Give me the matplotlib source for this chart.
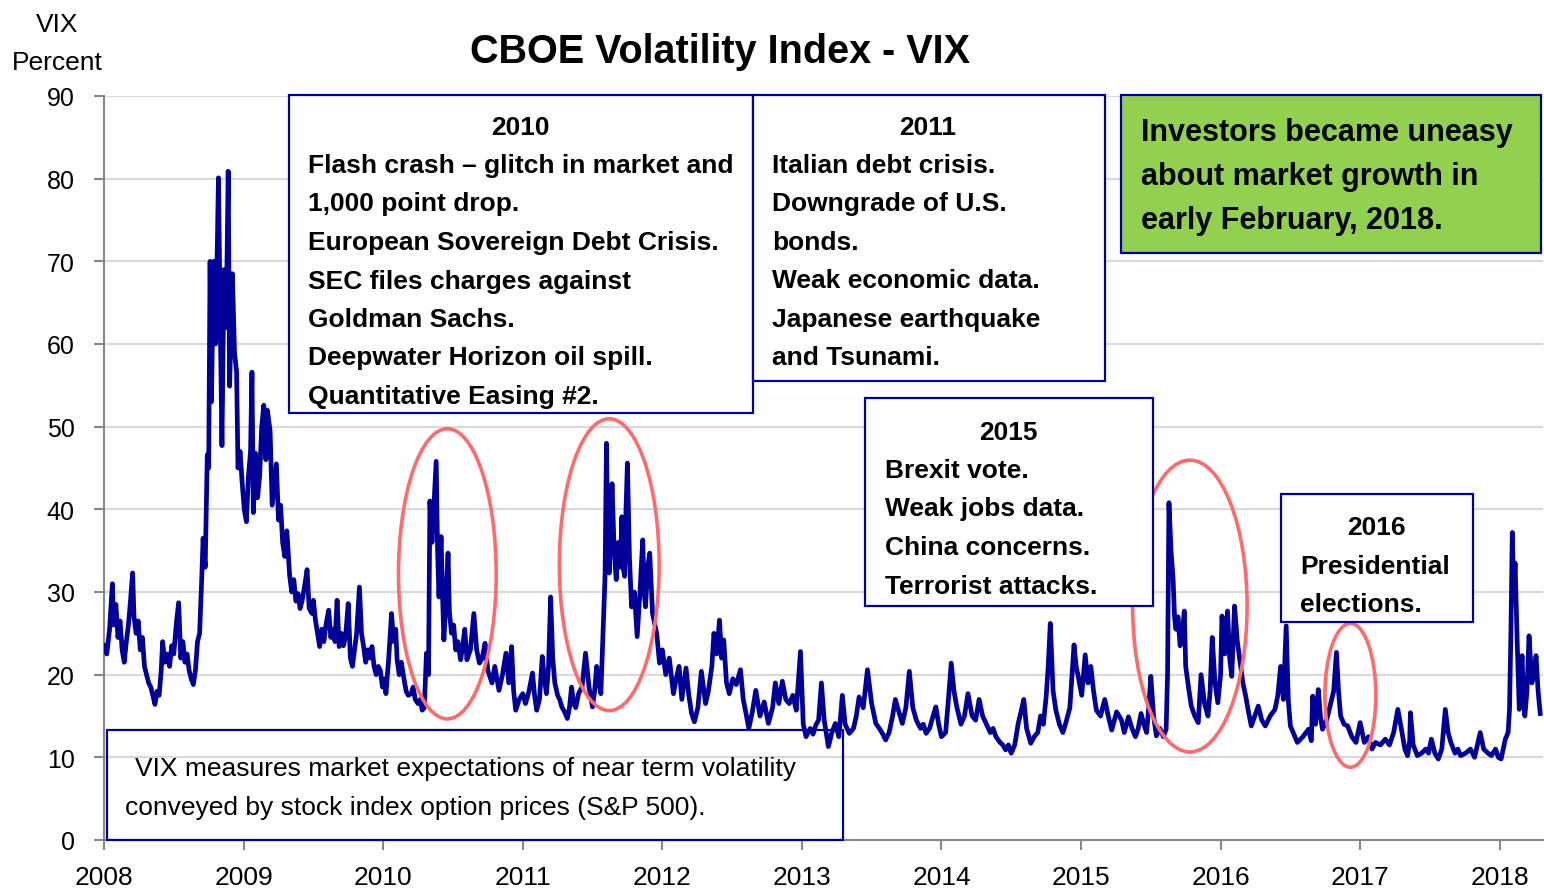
import matplotlib
matplotlib.use("Agg")
import matplotlib.pyplot as plt
from matplotlib.patches import Rectangle, Ellipse

W, H = 1544, 895
FONT = ["Liberation Sans", "DejaVu Sans"]

# ---- data: (decimal year, VIX) ----
vix_2008 = [(2008.00, 23.5), (2008.02, 22.5), (2008.04, 25.5), (2008.06, 31.0), (2008.07, 26.0),
            (2008.085, 28.5), (2008.10, 24.5), (2008.115, 26.5), (2008.13, 23.0), (2008.145, 21.5),
            (2008.16, 24.0), (2008.175, 26.0), (2008.19, 29.0), (2008.205, 32.3), (2008.215, 27.0),
            (2008.23, 25.0), (2008.245, 26.5), (2008.26, 23.0), (2008.275, 24.5), (2008.29, 21.0),
            (2008.305, 20.0), (2008.32, 19.0), (2008.335, 18.5), (2008.35, 17.5), (2008.365, 16.4),
            (2008.38, 18.0), (2008.395, 17.5), (2008.41, 20.5), (2008.42, 24.0), (2008.435, 21.5),
            (2008.45, 22.5), (2008.47, 21.0), (2008.485, 23.5), (2008.50, 22.5), (2008.52, 26.5),
            (2008.535, 28.7), (2008.55, 22.0), (2008.565, 24.0), (2008.58, 21.5), (2008.595, 22.5),
            (2008.61, 20.5), (2008.625, 19.5), (2008.64, 18.8), (2008.655, 20.5), (2008.67, 24.0),
            (2008.685, 25.0), (2008.70, 31.5), (2008.71, 36.5), (2008.725, 33.0), (2008.74, 46.6),
            (2008.75, 45.0), (2008.76, 70.0), (2008.77, 53.0), (2008.785, 70.0), (2008.80, 60.0),
            (2008.82, 80.1), (2008.83, 66.5), (2008.845, 47.7), (2008.86, 69.0), (2008.875, 62.0),
            (2008.89, 80.9), (2008.90, 54.9), (2008.92, 68.5), (2008.935, 59.0), (2008.95, 56.6),
            (2008.96, 45.0), (2008.975, 47.0), (2008.99, 43.2)]
vix_2009 = [(2009.005, 40.0), (2009.02, 38.5), (2009.035, 44.0), (2009.05, 47.0), (2009.06, 56.6),
            (2009.07, 39.6), (2009.085, 46.8), (2009.10, 41.4), (2009.115, 44.0), (2009.13, 50.0),
            (2009.145, 52.6), (2009.16, 46.0), (2009.17, 52.0), (2009.19, 49.5), (2009.205, 40.5),
            (2009.22, 43.0), (2009.235, 45.5), (2009.25, 38.7), (2009.265, 40.5), (2009.28, 36.0),
            (2009.295, 34.3), (2009.31, 37.4), (2009.33, 32.0), (2009.345, 30.0), (2009.36, 31.5),
            (2009.375, 28.9), (2009.39, 29.8), (2009.405, 28.0), (2009.42, 29.0), (2009.44, 31.0),
            (2009.455, 32.7), (2009.47, 28.0), (2009.49, 27.4), (2009.50, 29.0), (2009.515, 26.6),
            (2009.53, 25.0), (2009.545, 23.4), (2009.56, 25.5), (2009.575, 24.0), (2009.59, 26.0),
            (2009.61, 27.8), (2009.625, 24.5), (2009.64, 25.5), (2009.655, 24.0), (2009.67, 29.0),
            (2009.685, 23.4), (2009.70, 25.0), (2009.715, 23.5), (2009.73, 24.5), (2009.75, 28.6),
            (2009.765, 22.0), (2009.78, 21.0), (2009.795, 23.0), (2009.81, 25.0), (2009.83, 30.6),
            (2009.845, 25.0), (2009.86, 23.4), (2009.875, 21.5), (2009.89, 23.0), (2009.905, 22.0),
            (2009.92, 23.4), (2009.935, 21.0), (2009.95, 20.0), (2009.965, 21.0), (2009.98, 20.5),
            (2009.995, 18.5)]
vix_2010 = [(2010.01, 19.5), (2010.02, 17.7), (2010.04, 22.0), (2010.06, 27.4), (2010.075, 24.0),
            (2010.09, 25.5), (2010.10, 21.8), (2010.115, 20.0), (2010.13, 21.5), (2010.15, 19.4),
            (2010.165, 18.0), (2010.18, 17.5), (2010.20, 17.7), (2010.215, 18.5), (2010.23, 17.0),
            (2010.25, 16.5), (2010.265, 17.0), (2010.28, 15.7), (2010.295, 16.0), (2010.31, 22.6),
            (2010.325, 20.0), (2010.335, 41.0), (2010.35, 36.0), (2010.365, 41.0), (2010.38, 45.8),
            (2010.39, 35.0), (2010.40, 29.4), (2010.415, 36.7), (2010.425, 30.0), (2010.435, 24.2),
            (2010.45, 29.0), (2010.465, 34.7), (2010.475, 27.5), (2010.49, 25.0), (2010.505, 26.0),
            (2010.52, 23.0), (2010.535, 24.0), (2010.555, 21.8), (2010.57, 23.5), (2010.585, 25.5),
            (2010.60, 21.8), (2010.625, 23.0), (2010.65, 27.4), (2010.67, 23.0), (2010.69, 21.4),
            (2010.71, 22.0), (2010.73, 23.8), (2010.75, 20.5), (2010.78, 19.0), (2010.80, 21.0),
            (2010.83, 18.1), (2010.855, 20.0), (2010.88, 22.6), (2010.90, 19.0), (2010.92, 23.4),
            (2010.935, 18.0), (2010.95, 15.7), (2010.975, 17.0)]
vix_2011 = [(2011.00, 17.7), (2011.02, 16.5), (2011.045, 18.0), (2011.07, 20.2), (2011.085, 17.5),
            (2011.10, 15.7), (2011.12, 17.0), (2011.14, 22.2), (2011.155, 19.5), (2011.17, 17.7),
            (2011.185, 21.0), (2011.20, 29.4), (2011.215, 22.0), (2011.23, 19.0), (2011.25, 17.5),
            (2011.265, 17.0), (2011.28, 16.1), (2011.30, 15.5), (2011.32, 14.7), (2011.335, 16.0),
            (2011.35, 18.5), (2011.365, 16.5), (2011.38, 16.0), (2011.40, 17.7), (2011.425, 18.5),
            (2011.45, 22.6), (2011.475, 18.5), (2011.50, 16.1), (2011.515, 18.0), (2011.53, 21.0),
            (2011.545, 19.0), (2011.56, 17.7), (2011.575, 25.0), (2011.59, 32.0), (2011.60, 48.0),
            (2011.61, 36.0), (2011.62, 32.3), (2011.63, 38.0), (2011.64, 43.1), (2011.655, 35.0),
            (2011.67, 31.5), (2011.685, 36.0), (2011.70, 33.0), (2011.71, 39.1), (2011.72, 33.0),
            (2011.73, 31.9), (2011.74, 40.0), (2011.75, 45.6), (2011.765, 34.0), (2011.78, 28.2),
            (2011.80, 30.0), (2011.82, 24.6), (2011.84, 30.0), (2011.86, 36.3), (2011.87, 30.0),
            (2011.88, 28.2), (2011.895, 33.0), (2011.91, 34.7), (2011.93, 27.4), (2011.96, 25.0),
            (2011.98, 21.4)]
vix_2012 = [(2012.00, 23.0), (2012.025, 20.0), (2012.05, 22.0), (2012.08, 17.7), (2012.10, 19.5),
            (2012.12, 21.0), (2012.14, 17.0), (2012.17, 20.8), (2012.19, 17.5), (2012.21, 15.3),
            (2012.23, 14.3), (2012.255, 16.0), (2012.28, 20.4), (2012.31, 16.5), (2012.33, 18.0),
            (2012.355, 21.0), (2012.37, 25.0), (2012.39, 22.5), (2012.41, 26.6), (2012.425, 22.0),
            (2012.44, 24.2), (2012.46, 19.0), (2012.48, 17.7), (2012.505, 19.5), (2012.53, 18.8),
            (2012.56, 20.6), (2012.58, 17.0), (2012.60, 15.3), (2012.62, 13.5), (2012.645, 15.5),
            (2012.67, 18.1), (2012.70, 15.0), (2012.73, 16.7), (2012.76, 14.1), (2012.79, 16.0),
            (2012.81, 19.0), (2012.835, 16.5), (2012.86, 19.2), (2012.885, 17.0), (2012.91, 16.5),
            (2012.935, 17.5), (2012.96, 15.7), (2012.99, 22.8)]
vix_2013 = [(2013.01, 14.0), (2013.03, 12.5), (2013.06, 13.5), (2013.08, 12.8), (2013.10, 13.9),
            (2013.12, 14.5), (2013.14, 19.0), (2013.16, 14.5), (2013.19, 11.3), (2013.215, 13.0),
            (2013.24, 14.1), (2013.265, 12.5), (2013.29, 17.5), (2013.31, 14.0), (2013.34, 12.9),
            (2013.37, 13.5), (2013.39, 15.0), (2013.41, 17.3), (2013.44, 16.0), (2013.47, 20.6),
            (2013.50, 16.5), (2013.53, 14.1), (2013.555, 13.5), (2013.58, 12.8), (2013.60, 12.1),
            (2013.625, 13.0), (2013.65, 15.0), (2013.67, 17.0), (2013.695, 15.5), (2013.72, 14.1),
            (2013.745, 16.0), (2013.77, 20.4), (2013.795, 16.0), (2013.82, 14.5), (2013.85, 13.5),
            (2013.87, 14.0), (2013.89, 12.9), (2013.915, 13.5), (2013.94, 15.0), (2013.96, 16.1),
            (2013.98, 14.0)]
vix_2014 = [(2014.00, 12.5), (2014.03, 13.0), (2014.05, 17.0), (2014.07, 21.4), (2014.09, 18.0),
            (2014.11, 16.1), (2014.14, 14.0), (2014.165, 15.0), (2014.19, 17.7), (2014.22, 15.0),
            (2014.245, 14.5), (2014.27, 17.0), (2014.295, 15.0), (2014.32, 14.1), (2014.35, 13.0),
            (2014.37, 13.5), (2014.39, 12.5), (2014.42, 11.8), (2014.44, 11.5), (2014.46, 10.9),
            (2014.48, 11.5), (2014.50, 10.5), (2014.525, 11.5), (2014.55, 14.1), (2014.57, 15.5),
            (2014.59, 17.0), (2014.61, 13.5), (2014.64, 11.7), (2014.665, 12.5), (2014.69, 13.0),
            (2014.71, 15.0), (2014.73, 14.0), (2014.75, 17.3), (2014.765, 21.0), (2014.78, 26.2),
            (2014.80, 18.0), (2014.82, 15.7), (2014.845, 14.0), (2014.87, 13.0), (2014.89, 14.1),
            (2014.92, 16.0), (2014.95, 23.6), (2014.965, 21.0), (2014.98, 19.8)]
vix_2015 = [(2015.005, 17.5), (2015.03, 22.4), (2015.05, 19.0), (2015.07, 21.0), (2015.09, 18.0),
            (2015.11, 15.7), (2015.14, 15.0), (2015.17, 17.0), (2015.195, 15.0), (2015.22, 13.3),
            (2015.255, 15.5), (2015.29, 14.5), (2015.31, 13.0), (2015.34, 14.9), (2015.365, 13.5),
            (2015.39, 12.5), (2015.41, 13.5), (2015.43, 15.3), (2015.45, 14.0), (2015.47, 13.0),
            (2015.485, 16.0), (2015.50, 19.8), (2015.52, 15.0), (2015.54, 12.6), (2015.565, 13.5),
            (2015.59, 12.5), (2015.61, 13.4), (2015.62, 20.0), (2015.63, 40.8), (2015.645, 35.0),
            (2015.66, 31.5), (2015.67, 27.0), (2015.68, 25.5), (2015.695, 27.0), (2015.71, 23.5),
            (2015.725, 25.0), (2015.74, 27.7), (2015.75, 21.0), (2015.77, 18.5), (2015.79, 16.2),
            (2015.815, 15.0), (2015.84, 14.2), (2015.86, 20.0), (2015.885, 16.5), (2015.91, 15.0),
            (2015.925, 18.0), (2015.94, 24.5), (2015.96, 19.0), (2015.98, 16.6)]
vix_2016 = [(2016.00, 20.0), (2016.01, 27.1), (2016.03, 22.5), (2016.05, 27.7), (2016.065, 22.0),
            (2016.08, 19.8), (2016.09, 24.0), (2016.10, 28.3), (2016.12, 24.0), (2016.14, 21.5),
            (2016.16, 19.0), (2016.18, 17.4), (2016.20, 15.5), (2016.22, 13.8), (2016.245, 15.0),
            (2016.27, 16.2), (2016.295, 14.5), (2016.32, 13.8), (2016.355, 15.0), (2016.39, 15.8),
            (2016.41, 17.5), (2016.43, 21.0), (2016.45, 17.0), (2016.47, 25.9), (2016.485, 17.0),
            (2016.50, 13.8), (2016.525, 12.8), (2016.55, 11.8), (2016.59, 12.5), (2016.63, 13.4),
            (2016.65, 12.0), (2016.66, 17.4), (2016.68, 14.0), (2016.70, 18.2), (2016.715, 15.0),
            (2016.73, 13.4), (2016.76, 14.5), (2016.79, 16.6), (2016.81, 18.0), (2016.83, 22.7),
            (2016.845, 18.0), (2016.86, 15.0), (2016.885, 14.0), (2016.91, 13.8), (2016.94, 12.5),
            (2016.97, 11.8)]
vix_2017 = [(2017.00, 14.2), (2017.03, 11.8), (2017.06, 12.5), (2017.085, 11.0), (2017.11, 11.8),
            (2017.145, 11.5), (2017.18, 12.2), (2017.21, 11.5), (2017.24, 13.0), (2017.27, 15.8),
            (2017.30, 13.0), (2017.32, 11.0), (2017.34, 10.2), (2017.355, 12.0), (2017.36, 15.4),
            (2017.38, 11.5), (2017.41, 10.2), (2017.44, 10.5), (2017.47, 11.0), (2017.49, 10.5),
            (2017.51, 12.2), (2017.535, 10.5), (2017.56, 9.8), (2017.585, 11.0), (2017.61, 15.8),
            (2017.63, 13.0), (2017.65, 11.8), (2017.68, 10.5), (2017.70, 11.0), (2017.72, 10.2),
            (2017.755, 10.5), (2017.79, 11.0), (2017.82, 10.0), (2017.86, 13.0), (2017.885, 11.0),
            (2017.91, 10.6), (2017.94, 10.2), (2017.97, 11.0), (2017.99, 10.0)]
vix_2018 = [(2018.01, 9.8), (2018.04, 12.2), (2018.06, 13.0), (2018.07, 15.8), (2018.08, 25.0),
            (2018.09, 37.2), (2018.10, 30.0), (2018.11, 33.5), (2018.125, 24.0), (2018.14, 15.8),
            (2018.15, 19.0), (2018.16, 22.3), (2018.17, 17.0), (2018.18, 15.0), (2018.195, 18.0),
            (2018.21, 24.7), (2018.22, 22.0), (2018.23, 19.0), (2018.245, 20.0), (2018.26, 22.3),
            (2018.275, 18.0), (2018.29, 15.3)]

series = (vix_2008 + vix_2009 + vix_2010 + vix_2011 + vix_2012 + vix_2013 +
          vix_2014 + vix_2015 + vix_2016 + vix_2017 + vix_2018)
years = [p[0] for p in series]
vix = [p[1] for p in series]

year_ticks = list(range(2008, 2019))
vix_ticks = list(range(0, 91, 10))

# highlighted episodes: (centre year, centre VIX, width in years, height in VIX)
circles = [(2010.46, 32.2, 0.70, 35.1), (2011.62, 33.3, 0.715, 35.3),
           (2015.78, 28.3, 0.82, 35.3), (2016.93, 17.5, 0.365, 17.4)]

BLUE = "#000099"
RED = "#FF6B6B"
GREEN = "#92D050"

fig = plt.figure(figsize=(W / 100, H / 100), dpi=100)
ax = fig.add_axes([104 / W, 1 - 841 / H, (1543 - 104) / W, (841 - 97) / H])

ax.plot(years, vix, color=BLUE, lw=3.4, solid_joinstyle="round", zorder=3)
for cx, cy, ew, eh in circles:
    ax.add_patch(Ellipse((cx, cy), ew, eh, fill=False, edgecolor=RED, lw=2.6, zorder=4))

ax.set_xlim(2008, 2018.31)
ax.set_ylim(0, 90)
ax.set_xticks(year_ticks)
ax.set_xticklabels([str(y) for y in year_ticks], fontfamily=FONT, fontsize=19)
ax.set_yticks(vix_ticks)
ax.set_yticklabels([str(v) for v in vix_ticks], fontfamily=FONT, fontsize=18)
ax.grid(axis="y", color="#D9D9D9", lw=1.5, zorder=0)
ax.set_axisbelow(True)
for s in ["top", "right"]:
    ax.spines[s].set_visible(False)
for s in ["left", "bottom"]:
    ax.spines[s].set_color("#888888")
    ax.spines[s].set_linewidth(1.5)
ax.tick_params(axis="y", length=7, width=1.5, color="#888888", pad=14)
ax.tick_params(axis="x", length=7, width=1.5, color="#888888", pad=11)


def px(x, y):
    return x / W, 1 - y / H


def box(x0, y0, x1, y1, face="white"):
    fig.add_artist(Rectangle(px(x0, y1), (x1 - x0) / W, (y1 - y0) / H, transform=fig.transFigure,
                             facecolor=face, edgecolor=BLUE, lw=1.6, zorder=5))


def line(x, y, s, size=19, bold=True, ha="left"):
    fig.text(*px(x, y), s, ha=ha, va="baseline", fontsize=size, fontfamily=FONT,
             fontweight="bold" if bold else "normal", zorder=6)


fig.text(*px(720, 63), "CBOE Volatility Index - VIX", ha="center", va="baseline",
         fontsize=28.5, fontweight="bold", fontfamily=FONT)
fig.text(*px(57, 32), "VIX", ha="center", va="baseline", fontsize=19, fontfamily=FONT)
fig.text(*px(57, 70), "Percent", ha="center", va="baseline", fontsize=19, fontfamily=FONT)

# 2010 box
box(289, 96, 753, 414)
line(520, 135, "2010", ha="center")
for i, s in enumerate(["Flash crash \u2013 glitch in market and", "1,000 point drop.",
                       "European Sovereign Debt Crisis.", "SEC files charges against",
                       "Goldman Sachs.", "Deepwater Horizon oil spill.", "Quantitative Easing #2."]):
    line(308, 173 + i * 38.5, s)

# 2011 box
box(753, 96, 1105, 382)
line(928, 135, "2011", ha="center")
for i, s in enumerate(["Italian debt crisis.", "Downgrade of U.S.", "bonds.",
                       "Weak economic data.", "Japanese earthquake", "and Tsunami."]):
    line(772, 173 + i * 38.5, s)

# green box
box(1121, 96, 1541, 254, face=GREEN)
for i, s in enumerate(["Investors became uneasy", "about market growth in", "early February, 2018."]):
    line(1141, 141 + i * 44, s, size=22)

# 2015 box
box(865, 399, 1153, 607)
line(1008, 440, "2015", ha="center")
for i, s in enumerate(["Brexit vote.", "Weak jobs data.", "China concerns.", "Terrorist attacks."]):
    line(885, 478 + i * 38.5, s)

# 2016 box
box(1281, 495, 1473, 623)
line(1376, 535, "2016", ha="center")
line(1300, 574, "Presidential")
line(1300, 612, "elections.")

# VIX note box (no fill)
fig.add_artist(Rectangle(px(107, 841), (843 - 107) / W, (841 - 731) / H, transform=fig.transFigure,
                         fill=False, edgecolor=BLUE, lw=1.6, zorder=5))
line(135, 776, "VIX measures market expectations of near term volatility", bold=False)
line(125, 815, "conveyed by stock index option prices (S&P 500).", bold=False)

fig.savefig("out.png", dpi=100)
